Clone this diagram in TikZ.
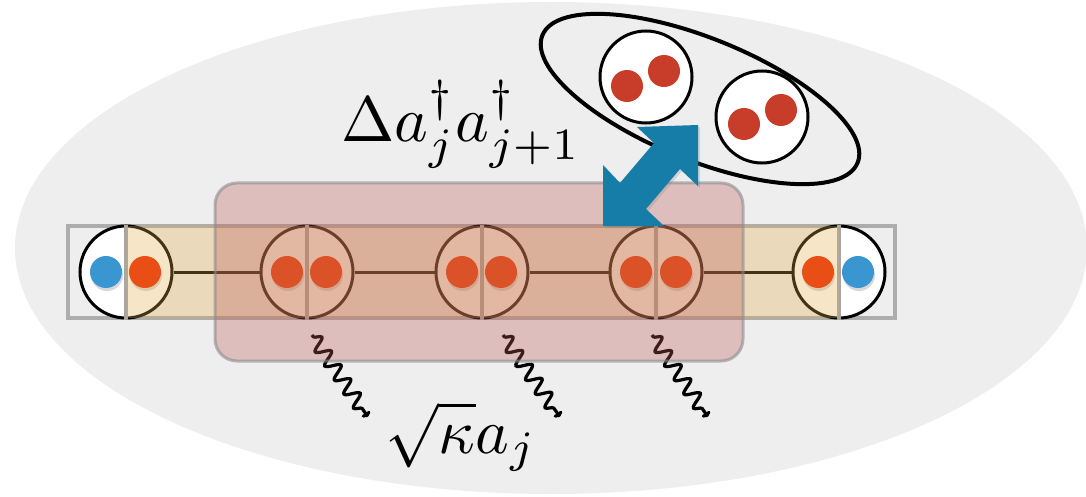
\RequirePackage{fix-cm}
\documentclass[tikz,border=0pt]{standalone}
\usetikzlibrary{arrows.meta, decorations.pathmorphing, shadows}

\definecolor{cloudgray}{RGB}{238,238,238}
\definecolor{sitered}{RGB}{236,40,0}
\definecolor{siteblue}{RGB}{58,150,208}
\definecolor{pairred}{RGB}{200,60,42}
\definecolor{pumpblue}{RGB}{22,125,168}
\definecolor{chainbeige}{RGB}{228,170,70}
\definecolor{boxpink}{RGB}{190,90,85}

\begin{document}
\begin{tikzpicture}[
    x=1pt, y=-1pt,
    site/.style={circle, draw=black, line width=3pt, fill=white, minimum size=92pt, inner sep=0pt},
    pair/.style={circle, draw=black, line width=3pt, fill=white, minimum size=92pt, inner sep=0pt},
    dot/.style={circle, minimum size=32pt, inner sep=0pt, drop shadow={shadow xshift=1pt, shadow yshift=-3pt, opacity=0.3}},
    link/.style={line width=3pt},
    divider/.style={draw=black!35, line width=3.5pt},
    decay/.style={line width=3.2pt, decorate, decoration={snake, amplitude=7pt, segment length=17pt, pre length=2pt, post length=9pt}, -{To[length=5pt, width=10pt]}},
    label/.style={anchor=base}
]

    \useasboundingbox (0,0) rectangle (1086,497);

    % Background cloud
    \fill[cloudgray] (551,248) ellipse [x radius=536pt, y radius=246pt];

    % Chain frame
    \draw[black!32, line width=4pt] (68,226) rectangle (895,318);

    % Sites
    \node[site] (s1) at (126,272) {};
    \node[site] (s2) at (307,272) {};
    \node[site] (s3) at (482,272) {};
    \node[site] (s4) at (656,272) {};
    \node[site] (s5) at (839,272) {};

    % Dividers inside sites
    \draw[divider] (s1.north) -- (s1.south);
    \draw[divider] (s2.north) -- (s2.south);
    \draw[divider] (s3.north) -- (s3.south);
    \draw[divider] (s4.north) -- (s4.south);
    \draw[divider] (s5.north) -- (s5.south);

    % Links between sites
    \draw[link] (s1) -- (s2);
    \draw[link] (s2) -- (s3);
    \draw[link] (s3) -- (s4);
    \draw[link] (s4) -- (s5);

    % Particles on the sites
    \node[dot, fill=siteblue] (b1) at (106,272) {};
    \node[dot, fill=sitered] (r1) at (145,272) {};
    \node[dot, fill=sitered] (r2a) at (287,272) {};
    \node[dot, fill=sitered] (r2b) at (326,272) {};
    \node[dot, fill=sitered] (r3a) at (462,272) {};
    \node[dot, fill=sitered] (r3b) at (501,272) {};
    \node[dot, fill=sitered] (r4a) at (636,272) {};
    \node[dot, fill=sitered] (r4b) at (676,272) {};
    \node[dot, fill=sitered] (r5) at (818,272) {};
    \node[dot, fill=siteblue] (b5) at (858,272) {};

    % Bulk of the chain
    \fill[chainbeige, fill opacity=0.3] (126,226) rectangle (839,318);

    % Losses
    \coordinate (w1a) at (312,335);
    \coordinate (w1b) at (368,417);
    \coordinate (w2a) at (503,335);
    \coordinate (w2b) at (560,417);
    \coordinate (w3a) at (652,335);
    \coordinate (w3b) at (708,417);
    \draw[decay] (w1a) -- (w1b);
    \draw[decay] (w2a) -- (w2b);
    \draw[decay] (w3a) -- (w3b);

    % Driven region
    \draw[fill=boxpink, fill opacity=0.32, draw=black!45, draw opacity=0.6, line width=3pt, rounded corners=22pt] (215,183) rectangle (743,361);

    % Labels
    \node[label] (hop) at (461,142) {\scalebox{6.4}{$\Delta a_j^\dagger a_{j+1}^\dagger$}};
    \node[label] (loss) at (461,453) {\scalebox{6.4}{$\sqrt{\kappa} a_j$}};

    % Bound pair
    \draw[line width=4pt, rotate around={-22:(700,99)}] (700,99) ellipse [x radius=170pt, y radius=61pt];
    \node[pair] (p1) at (646,77) {};
    \node[pair] (p2) at (762,117) {};
    \fill[pairred] (627,86) circle [radius=16pt];
    \fill[pairred] (664,71) circle [radius=16pt];
    \fill[pairred] (744,124) circle [radius=16pt];
    \fill[pairred] (781,110) circle [radius=16pt];

    % Pair exchange arrow
    \fill[pumpblue, drop shadow={shadow xshift=2pt, shadow yshift=-2pt, opacity=0.25}]
        (603,226) -- (603,165) -- (620,183) -- (654,143) -- (637,127) -- (698,125)
        -- (698,186) -- (680,169) -- (646,209) -- (664,226) -- cycle;

\end{tikzpicture}
\end{document}
